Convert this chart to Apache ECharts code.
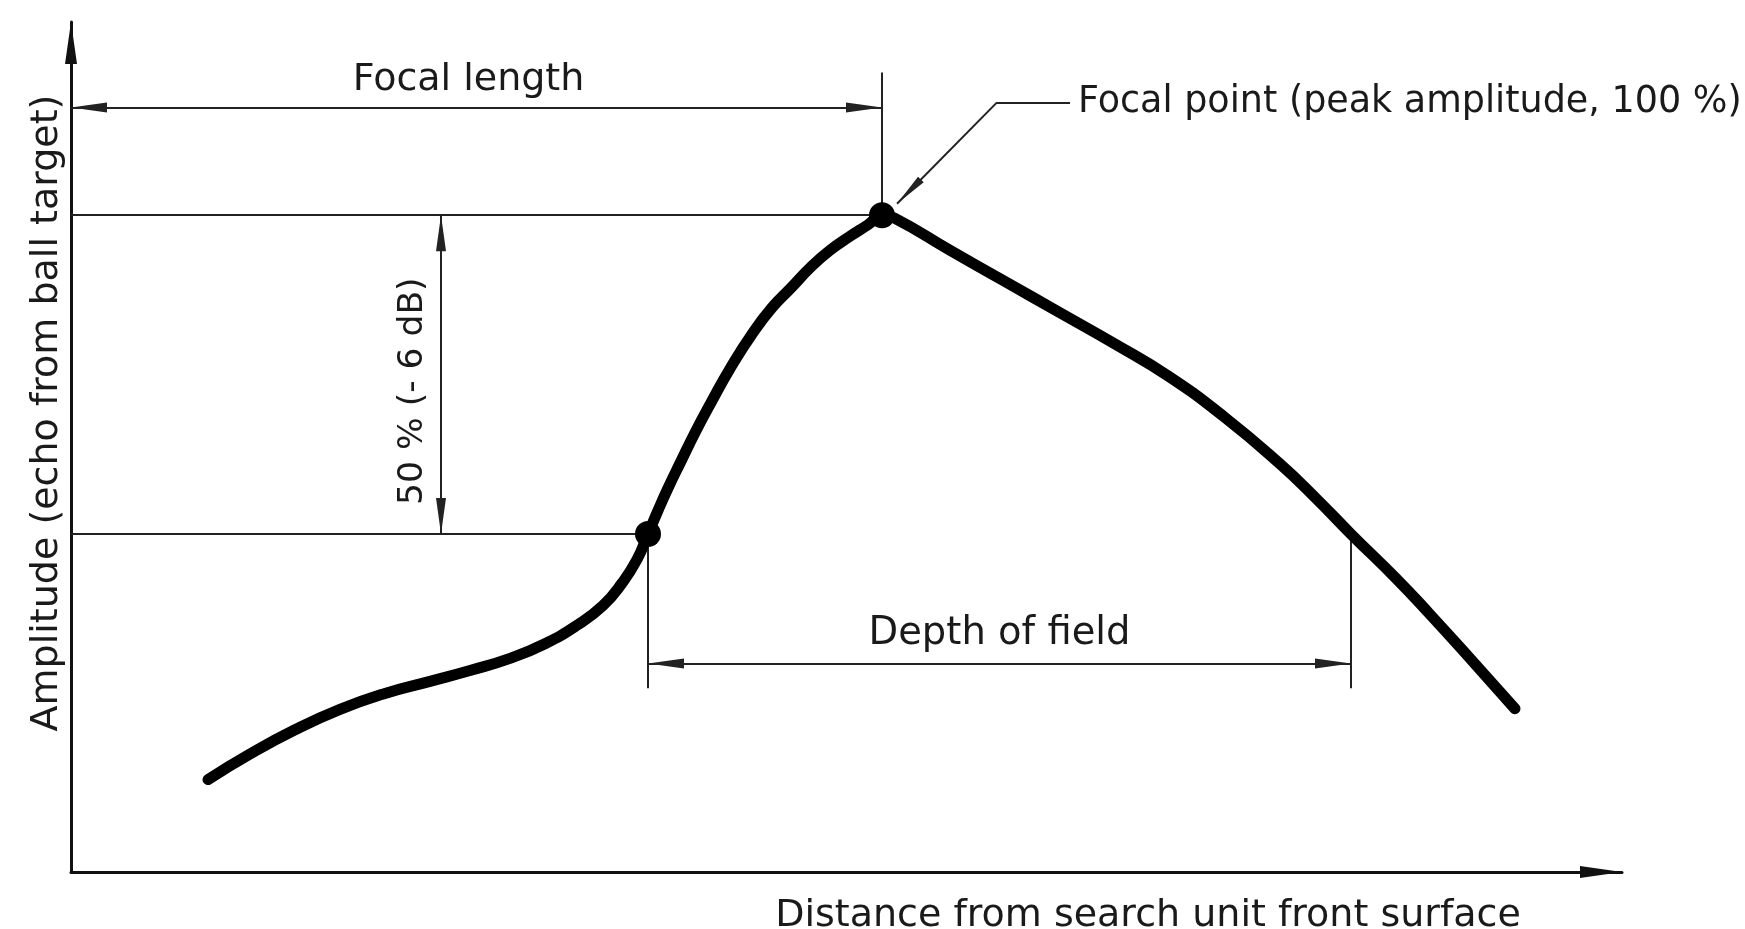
<!DOCTYPE html>
<html>
<head>
<meta charset="utf-8">
<title>Focal point and depth of field</title>
<script src="https://cdn.jsdelivr.net/npm/echarts@6/dist/echarts.min.js"></script>
<style>
  html, body { margin: 0; padding: 0; background: #fff; }
  #chart { width: 1745px; height: 929px; }
</style>
</head>
<body>
<div id="chart"></div>
<script>
// distance from search unit front surface (arbitrary units)
var distance = [13.7, 17.9, 22.4, 26.9, 31.4, 35.9, 39.9, 43.9, 47.4, 50.6,
  53.2, 55.1, 56.6, 57.7, 58.7, 59.7, 60.9, 62.5, 64.0, 66.0,
  68.2, 70.1, 72.0, 74.0, 75.9, 77.9, 79.7, 81.1, 82.4, 87.9,
  93.4, 98.9, 104.4, 109.7, 115.3, 120.9, 124.5, 128.0, 132.6, 135.9,
  139.9, 144.4];
// echo amplitude, % of the peak
var amplitude = [11.5, 15.5, 19.3, 22.5, 25.0, 26.9, 28.6, 30.5, 32.8, 35.7,
  38.8, 42.3, 46.0, 50, 53.7, 57.2, 61.1, 66.2, 70.6, 76.2,
  81.6, 85.5, 88.6, 91.9, 94.5, 96.7, 98.5, 100, 99.5, 94.5,
  89.6, 84.7, 79.8, 74.8, 68.4, 61.0, 55.6, 50, 42.9, 37.4,
  30.5, 22.6];

var xName = "Distance from search unit front surface";
var yName = "Amplitude (echo from ball target)";
var txtFocalLength = "Focal length";
var txtFocalPoint = "Focal point (peak amplitude, 100 %)";
var txtHalf = "50 % (- 6 dB)";
var txtDepth = "Depth of field";

var curve = distance.map(function (d, i) { return [d, amplitude[i]]; });
var peak = curve[amplitude.indexOf(Math.max.apply(null, amplitude))];
var halfLeft = curve[amplitude.indexOf(50)];
var halfRight = curve[amplitude.lastIndexOf(50)];

// levels of the dimension lines (data units)
var focalLevel = 116.9;
var extTop = 122.4;
var halfDimX = 37.0;
var depthLevel = 29.7;
var depthExtBottom = 25.8;
var leaderTip = [peak[0] + 1.5, 101.8];
var leaderBend = [92.6, 117.7];
var leaderEnd = [99.9, 117.7];

var font = "'DejaVu Sans', sans-serif";
var ink = "#1a1a1a";
var arrowHead = "path://M5,0L10,36L0,36Z";

function arrowEnd(coord) {
  return { coord: coord, symbol: arrowHead, symbolSize: [10, 36], symbolOffset: [0, 18] };
}

var chart = echarts.init(document.getElementById("chart"));

chart.setOption({
  animation: false,
  backgroundColor: "#fff",
  grid: { left: 71, right: 123, top: 22, bottom: 57, containLabel: false, outerBoundsMode: "none" },
  xAxis: {
    type: "value",
    min: 0,
    max: 155.1,
    name: xName,
    nameLocation: "middle",
    nameGap: 25,
    nameTextStyle: { fontFamily: font, fontSize: 38, color: ink, padding: [0, 0, 0, 603] },
    axisLine: {
      show: true,
      onZero: false,
      symbol: ["none", "path://M6,0L12,42L0,42Z"],
      symbolSize: [13, 42],
      symbolOffset: [0, -21],
      lineStyle: { color: "#111", width: 3 }
    },
    axisTick: { show: false },
    axisLabel: { show: false },
    splitLine: { show: false }
  },
  yAxis: {
    type: "value",
    min: -3,
    max: 130.3,
    name: yName,
    nameLocation: "middle",
    nameRotate: 90,
    nameGap: 5,
    nameTextStyle: { fontFamily: font, fontSize: 38, color: ink, padding: [0, 0, 0, 68] },
    axisLine: {
      show: true,
      onZero: false,
      symbol: ["none", "path://M6,0L12,42L0,42Z"],
      symbolSize: [12, 42],
      symbolOffset: [0, -21],
      lineStyle: { color: "#111", width: 3 }
    },
    axisTick: { show: false },
    axisLabel: { show: false },
    splitLine: { show: false }
  },
  series: [
    {
      // thin construction and dimension lines
      name: "guides",
      type: "line",
      data: [],
      z: 1,
      markLine: {
        silent: true,
        z: 1,
        animation: false,
        symbol: "none",
        lineStyle: { color: "#222", width: 2, type: "solid" },
        label: { show: false },
        emphasis: { disabled: true },
        data: [
          [{ coord: [0, 100] }, { coord: peak }],
          [{ coord: [0, 50] }, { coord: halfLeft }],
          [{ coord: [peak[0], 100] }, { coord: [peak[0], extTop] }],
          [{ coord: halfLeft }, { coord: [halfLeft[0], depthExtBottom] }],
          [{ coord: [halfRight[0], 49] }, { coord: [halfRight[0], depthExtBottom] }],
          [
            Object.assign(arrowEnd([0, focalLevel]), {
              label: { show: true, position: "middle", distance: 8, formatter: txtFocalLength,
                fontFamily: font, fontSize: 38, color: ink, padding: [0, 16, 0, 0] }
            }),
            arrowEnd([peak[0], focalLevel])
          ],
          [arrowEnd([halfDimX, 50]), arrowEnd([halfDimX, 100])],
          [
            Object.assign(arrowEnd([halfLeft[0], depthLevel]), {
              label: { show: true, position: "middle", distance: 10, formatter: txtDepth,
                fontFamily: font, fontSize: 38.5, color: ink }
            }),
            arrowEnd([halfRight[0], depthLevel])
          ],
          [
            { coord: leaderTip, symbol: arrowHead, symbolSize: [8, 34], symbolOffset: [0, 17] },
            { coord: leaderBend }
          ],
          [
            { coord: leaderBend },
            {
              coord: leaderEnd,
              label: { show: true, position: "end", distance: 8, formatter: txtFocalPoint,
                fontFamily: font, fontSize: 36.5, color: ink }
            }
          ]
        ]
      }
    },
    {
      name: "amplitude",
      type: "line",
      data: curve,
      z: 3,
      smooth: 0.5,
      showSymbol: false,
      silent: true,
      lineStyle: { color: "#000", width: 11, cap: "round", join: "round" },
      emphasis: { disabled: true }
    },
    {
      name: "points",
      type: "scatter",
      data: [peak, halfLeft],
      z: 4,
      symbolSize: 26,
      silent: true,
      itemStyle: { color: "#000", opacity: 1 },
      emphasis: { disabled: true }
    },
    {
      name: "half label",
      type: "scatter",
      data: [[34.2, 72.4]],
      z: 4,
      symbolSize: 0,
      silent: true,
      itemStyle: { opacity: 1 },
      label: {
        show: true,
        position: "inside",
        rotate: 90,
        formatter: txtHalf,
        fontFamily: font,
        fontSize: 34.5,
        color: ink
      },
      emphasis: { disabled: true }
    }
  ]
});
</script>
</body>
</html>
